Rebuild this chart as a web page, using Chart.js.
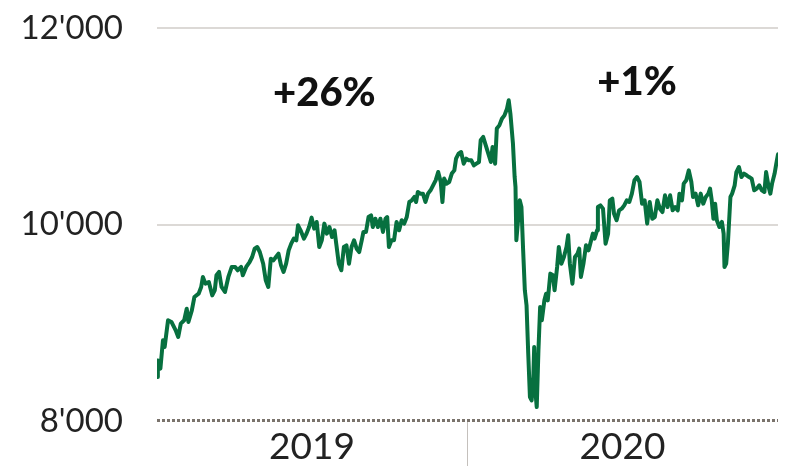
<!DOCTYPE html>
<html>
<head>
<meta charset="utf-8">
<script src="https://cdn.jsdelivr.net/npm/chart.js@4.4.1/dist/chart.umd.min.js"></script>
<style>
    html, body { margin: 0; padding: 0; background: #fff; }
    #wrap { width: 786px; height: 466px; position: relative; }
</style>
</head>
<body>
<div id="wrap"><canvas id="smiChart"></canvas></div>
<script>
// day number counted from 1 Jan 2019
const days = [
    0, 1, 4, 7, 9, 13, 17, 22, 25, 28,
    32, 35, 37, 41, 44, 49, 52, 54, 57, 61,
    65, 68, 70, 73, 76, 80, 84, 88, 92, 95,
    99, 101, 105, 109, 112, 115, 118, 121, 125, 128,
    131, 134, 137, 140, 143, 146, 149, 152, 155, 158,
    161, 164, 166, 169, 173, 176, 179, 182, 185, 188,
    191, 194, 197, 200, 203, 206, 209, 211, 214, 217,
    220, 223, 226, 229, 232, 235, 238, 241, 243, 246,
    249, 252, 254, 257, 260, 263, 266, 269, 271, 273,
    276, 279, 282, 285, 288, 291, 294, 297, 300, 303,
    305, 307, 310, 313, 316, 319, 322, 325, 328, 331,
    334, 336, 338, 341, 344, 347, 350, 352, 355, 358,
    361, 364, 367, 370, 373, 376, 379, 381, 384, 387,
    390, 393, 395, 398, 400, 403, 406, 409, 412, 414,
    416, 419, 421, 422, 423, 425, 426, 427, 429, 431,
    433, 435, 437, 439, 441, 443, 444, 445, 447, 449,
    451, 453, 456, 458, 460, 463, 466, 468, 471, 473,
    476, 479, 482, 484, 486, 489, 492, 495, 497, 499,
    502, 505, 508, 510, 513, 515, 518, 519, 522, 525,
    528, 531, 533, 536, 538, 541, 544, 547, 550, 553,
    556, 559, 562, 565, 568, 571, 574, 577, 580, 583,
    586, 589, 592, 595, 598, 601, 604, 607, 610, 613,
    615, 618, 620, 623, 626, 629, 631, 634, 637, 640,
    643, 646, 649, 651, 653, 655, 657, 659, 662, 665,
    667, 668, 670, 672, 675, 677, 680, 682, 685, 688,
    691, 694, 697, 700, 703, 706, 709, 712, 715, 717,
    720, 722, 724, 727, 729, 731
];

const smi = [
    8448, 8617, 8533, 8821, 8753, 9025, 9008, 8923, 8855, 8991,
    9025, 9143, 9008, 9126, 9262, 9296, 9364, 9466, 9398, 9415,
    9279, 9330, 9483, 9517, 9364, 9313, 9466, 9568, 9568, 9534,
    9568, 9483, 9568, 9618, 9669, 9754, 9771, 9720, 9601, 9432,
    9364, 9652, 9635, 9669, 9703, 9584, 9517, 9601, 9737, 9805,
    9856, 9839, 9992, 9941, 9856, 9907, 9974, 10070, 9958, 10026,
    9771, 9839, 10009, 9907, 9974, 9873, 9941, 9805, 9601, 9534,
    9771, 9788, 9601, 9771, 9839, 9754, 9720, 9839, 9924, 9924,
    10076, 10093, 9974, 10059, 9974, 10059, 9924, 10059, 10076, 9771,
    9839, 9839, 10026, 9941, 10043, 10009, 10076, 10229, 10246, 10280,
    10229, 10331, 10314, 10314, 10229, 10314, 10348, 10399, 10450, 10534,
    10433, 10229, 10467, 10416, 10433, 10518, 10551, 10670, 10721, 10738,
    10619, 10670, 10653, 10653, 10602, 10619, 10636, 10857, 10891, 10806,
    10721, 10636, 10789, 10619, 10976, 11009, 11077, 11111, 11179, 11264,
    11128, 10823, 10483, 10382, 9839, 10043, 10110, 10246, 10178, 9737,
    9330, 9177, 8685, 8244, 8210, 8448, 8753, 8346, 8142, 8719,
    9160, 9025, 9228, 9296, 9228, 9500, 9483, 9330, 9568, 9771,
    9601, 9669, 9771, 9890, 9601, 9398, 9669, 9703, 9754, 9466,
    9601, 9788, 9737, 9805, 9907, 9856, 9941, 10178, 10195, 10161,
    9805, 9907, 10246, 10263, 10110, 10043, 10144, 10161, 10195, 10246,
    10229, 10314, 10450, 10483, 10433, 10212, 10246, 10009, 10229, 10059,
    10076, 10246, 10161, 10127, 10297, 10178, 10297, 10144, 10178, 10144,
    10314, 10246, 10416, 10450, 10551, 10433, 10280, 10314, 10195, 10314,
    10212, 10280, 10314, 10365, 10246, 10059, 10212, 10043, 9974, 10026,
    9907, 9567, 9601, 9805, 10280, 10314, 10399, 10534, 10585, 10483,
    10518, 10501, 10483, 10467, 10348, 10365, 10399, 10348, 10331, 10534,
    10382, 10314, 10416, 10518, 10619, 10714
];

const years = ['2019', '2020'];
const yearMiddles = [182.5, 548];
const yearBreak = 365.5;
const yTicks = [8000, 10000, 12000];

const notes = ['+26%', '+1%'];
const noteDays = [197, 565];
const noteValues = [11340, 11450];

const fmt = v => String(v).replace(/\B(?=(\d{3})+(?!\d))/g, "'");

// text labels and the dotted base line
const notesPlugin = {
    id: 'notes',
    beforeDatasetsDraw(chart) {
        const { ctx, chartArea, scales: { y } } = chart;
        const yy = Math.round(y.getPixelForValue(8000)) - 0.5;
        ctx.save();
        ctx.strokeStyle = '#7a736c';
        ctx.lineWidth = 3;
        ctx.setLineDash([3, 2]);
        ctx.beginPath();
        ctx.moveTo(chartArea.left, yy);
        ctx.lineTo(chartArea.right, yy);
        ctx.stroke();
        ctx.restore();
    },
    afterDatasetsDraw(chart) {
        const { ctx, scales: { x, y } } = chart;
        ctx.save();
        ctx.fillStyle = '#111';
        ctx.font = '900 40px Lato';
        ctx.textAlign = 'center';
        ctx.textBaseline = 'middle';
        notes.forEach((t, i) => {
            ctx.fillText(t, x.getPixelForValue(noteDays[i]), y.getPixelForValue(noteValues[i]));
        });
        ctx.restore();
    }
};

const ctx = document.getElementById('smiChart').getContext('2d');

new Chart(ctx, {
    type: 'line',
    data: {
        datasets: [{
            data: days.map((d, i) => ({ x: d, y: smi[i] })),
            borderColor: '#07703f',
            borderWidth: 4,
            borderJoinStyle: 'round',
            borderCapStyle: 'round',
            pointRadius: 0,
            tension: 0
        }]
    },
    options: {
        responsive: true,
        maintainAspectRatio: false,
        animation: false,
        layout: { padding: { top: 28, right: 8, left: 0, bottom: 0 } },
        plugins: {
            legend: { display: false },
            tooltip: { enabled: false }
        },
        scales: {
            x: {
                type: 'linear',
                min: 0,
                max: 731,
                afterBuildTicks: s => {
                    s.ticks = [
                        { value: yearMiddles[0] },
                        { value: yearBreak },
                        { value: yearMiddles[1] }
                    ];
                },
                afterFit: s => {
                    s.height = 45;
                    s.paddingLeft = 0;
                    s.paddingRight = 0;
                },
                ticks: {
                    autoSkip: false,
                    maxRotation: 0,
                    padding: -42,
                    color: '#222',
                    font: { family: 'Lato', size: 37 },
                    callback: v => {
                        const i = yearMiddles.indexOf(v);
                        return i >= 0 ? years[i] : '';
                    }
                },
                grid: {
                    drawOnChartArea: false,
                    drawTicks: true,
                    tickLength: 46,
                    lineWidth: 1,
                    color: c => (c.tick && c.tick.value === yearBreak) ? '#c4c0bc' : 'rgba(0,0,0,0)'
                },
                border: { display: false }
            },
            y: {
                min: 8000,
                max: 12000,
                afterBuildTicks: s => {
                    s.ticks = yTicks.map(v => ({ value: v }));
                },
                afterFit: s => {
                    s.width = 157;
                    s.paddingTop = 0;
                    s.paddingBottom = 0;
                },
                ticks: {
                    padding: 34,
                    color: '#222',
                    font: { family: 'Lato', size: 33 },
                    callback: v => fmt(v)
                },
                grid: {
                    drawTicks: false,
                    lineWidth: 2,
                    color: c => (c.tick && c.tick.value === 8000) ? 'rgba(0,0,0,0)' : '#dcd9d6'
                },
                border: { display: false }
            }
        }
    },
    plugins: [notesPlugin]
});
</script>
</body>
</html>
